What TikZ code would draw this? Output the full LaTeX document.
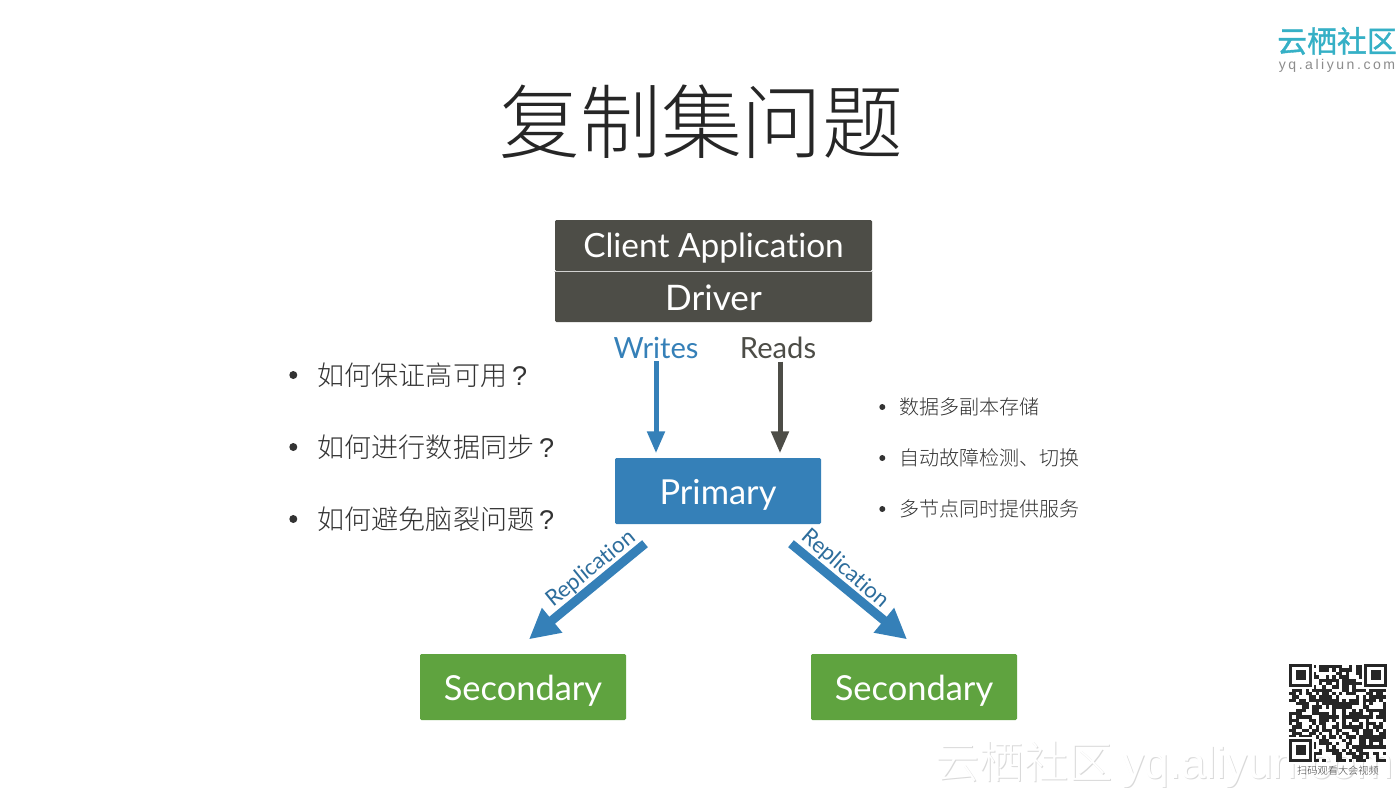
\documentclass[tikz,border=0pt]{standalone}
\usepackage{fontspec}
\setmainfont[Ligatures=NoCommon]{Lato}
\newfontfamily\cjk{Noto Sans CJK SC Light}
\newfontfamily\logofont[FakeBold=1.2]{Noto Sans CJK SC}
\newfontfamily\spaced[LetterSpace=18]{Liberation Sans}
\newfontfamily\wmfont{Liberation Sans}
\newcommand{\qm}{\hspace{0.05cm}{\wmfont ?}}
\usetikzlibrary{arrows.meta,positioning}

\definecolor{darkbox}{HTML}{4D4D47}
\definecolor{bluebox}{HTML}{3580B8}
\definecolor{greenbox}{HTML}{5FA33F}
\definecolor{bodytext}{HTML}{333333}
\definecolor{logoteal}{HTML}{35B0C6}

\tikzset{
  dbox/.style={rectangle, rounded corners=0.4pt, fill=darkbox, text=white, minimum width=3.17cm, minimum height=0.51cm, inner sep=0pt, text depth=0pt},
  rolebox/.style={rectangle, rounded corners=0.4pt, text=white, minimum width=2.06cm, minimum height=0.66cm, inner sep=0pt, text height=0.26cm, text depth=0pt, font=\fontsize{9.8}{10}\selectfont},
  biglabel/.style={inner sep=0pt, font=\fontsize{8.3}{10}\selectfont},
  repllabel/.style={inner sep=0pt, text=bluebox!85!black, font=\fontsize{6.3}{8}\selectfont},
  wire/.style={line width=0.05cm, -{Triangle[length=0.22cm,width=0.17cm]}, shorten >=0.04cm},
  repl/.style={line width=0.09cm, draw=bluebox, -{Triangle[length=0.3cm,width=0.3cm]}},
  qtext/.style={inner sep=0pt, anchor=west, text=bodytext, font=\cjk\fontsize{7.7}{9}\selectfont},
  ftext/.style={inner sep=0pt, anchor=west, text=bodytext, font=\cjk\fontsize{5.7}{7}\selectfont},
  dot/.style={circle, fill=bodytext, inner sep=0pt, minimum size=#1}
}

\begin{document}
\begin{tikzpicture}
        \useasboundingbox (0,0) rectangle (14,7.87);
        \fill[white] (0,0) rectangle (14,7.87);
        % heading and logo
        \node[inner sep=0pt, text=black!85, font=\cjk\fontsize{23}{26}\selectfont] at (7.015,6.65) (title) {复制集问题};
        \node[inner sep=0pt, text=logoteal, font=\logofont\fontsize{8.5}{10}\selectfont] at (13.37,7.46) (logo) {云栖社区};
        \node[inner sep=0pt, text=black!45, font=\spaced\fontsize{4}{5}\selectfont] at (13.37,7.21) (logourl) {yq.aliyun.com};
        % client boxes
        \node[dbox, text height=0.24cm, font=\fontsize{9.5}{10}\selectfont] at (7.135,5.415) (client) {Client Application};
        \node[dbox, text height=0.28cm, font=\fontsize{10}{10}\selectfont] at (7.135,4.905) (driver) {Driver};
        \draw[white!75!darkbox, line width=0.4pt] (client.south west) -- (client.south east);
        \node[rolebox, fill=bluebox] at (7.18,2.96) (primary) {Primary};
        \node[rolebox, fill=greenbox] at (5.23,1.00) (sec1) {Secondary};
        \node[rolebox, fill=greenbox] at (9.14,1.00) (sec2) {Secondary};
        \node[biglabel, text=bluebox] at (6.56,4.39) (writes) {Writes};
        \node[biglabel, text=darkbox] at (7.78,4.39) (reads) {Reads};
        % arrows
        \draw[wire, draw=bluebox, bluebox] ([yshift=-0.02cm]writes.south) -- (writes.south |- primary.north);
        \draw[wire, draw=darkbox, darkbox] ([xshift=0.02cm,yshift=-0.02cm]reads.south) -- ([xshift=0.02cm]reads.south |- primary.north);
        \draw[repl] ([xshift=-0.73cm,yshift=-0.19cm]primary.south) -- ([xshift=0.06cm,yshift=0.14cm]sec1.north);
        \draw[repl] ([xshift=0.73cm,yshift=-0.19cm]primary.south) -- ([xshift=-0.07cm,yshift=0.14cm]sec2.north);
        \node[repllabel, rotate=39] at (5.91,2.18) (repl1) {Replication};
        \node[repllabel, rotate=-41] at (8.45,2.18) (repl2) {Replication};
        % questions on the left
        \node[qtext] at (3.17,4.12) (q1) {如何保证高可用\qm};
        \node[qtext] at (3.17,3.40) (q2) {如何进行数据同步\qm};
        \node[qtext] at (3.17,2.68) (q3) {如何避免脑裂问题\qm};
        \foreach \i in {1,2,3}
          \node[dot=0.08cm, left=0.19cm of q\i] (qdot\i) {};
        % features on the right
        \node[ftext] at (8.99,3.80) (f1) {数据多副本存储};
        \node[ftext] at (8.99,3.29) (f2) {自动故障检测、切换};
        \node[ftext] at (8.99,2.78) (f3) {多节点同时提供服务};
        \foreach \i in {1,2,3}
          \node[dot=0.06cm, left=0.13cm of f\i] (fdot\i) {};
        % watermark
        \node[inner sep=0pt, anchor=west, text=black!15, font=\cjk\fontsize{12.6}{14}\selectfont] at (9.36,0.22) (wmshadow) {云栖社区 \wmfont yq.aliyun.com};
        \node[inner sep=0pt, anchor=west, text=white, font=\cjk\fontsize{12.6}{14}\selectfont] at (9.35,0.23) (wm) {云栖社区 \wmfont yq.aliyun.com};
        % qr code
        \pgfmathsetseed{41}
        \foreach \x in {0,...,28}
          \foreach \y in {0,...,28} {
            \pgfmathparse{rnd>0.42 ? 1 : 0}
            \ifnum\pgfmathresult=1
              \fill[black!85] (12.89+\x*0.0334,0.25+\y*0.0334) rectangle ++(0.0334,0.0334);
            \fi
          }
        \foreach \fx/\fy in {12.89/0.25,12.89/1.0,13.64/1.0} {
          \fill[white] (\fx-0.02,\fy-0.02) rectangle ++(0.274,0.274);
          \draw[black!85, line width=0.0334cm] (\fx+0.017,\fy+0.017) rectangle ++(0.2,0.2);
          \fill[black!85] (\fx+0.067,\fy+0.067) rectangle ++(0.1,0.1);
        }
        \node[inner sep=0pt, text=black!75, font=\cjk\fontsize{2.9}{4}\selectfont] at (13.38,0.16) (qrcap) {扫码观看大会视频};
\end{tikzpicture}
\end{document}
